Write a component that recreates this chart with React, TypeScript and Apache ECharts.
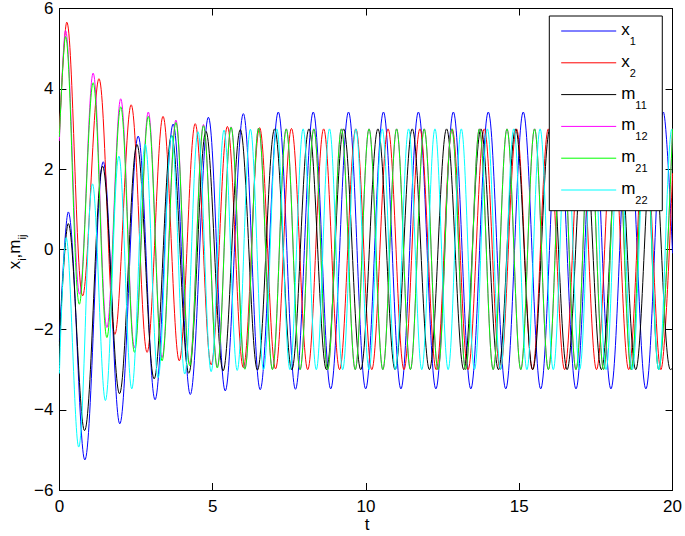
import React, { useEffect, useRef } from "react";
import * as echarts from "echarts";

const FONT = '"Liberation Sans", Arial, Helvetica, sans-serif';

const seriesNames = ["x1", "x2", "m11", "m12", "m21", "m22"];
const seriesColors = ["#0000ff", "#ff0000", "#000000", "#ff00ff", "#00ff00", "#00ffff"];
const xTicks = { min: 0, max: 20, interval: 5 };
const yTicks = { min: -6, max: 6, interval: 2 };

// x1 (blue): extrema [t, value]
const x1Data: number[][] = [
  [0, -2.3], [0.29, 0.93], [0.83, -5.25], [1.43, 2.18], [1.97, -4.35], [2.57, 2.82], [3.12, -3.75],
  [3.71, 3.12], [4.27, -3.62], [4.86, 3.29], [5.41, -3.53], [6.0, 3.38], [6.55, -3.5], [7.14, 3.42],
  [7.7, -3.49], [8.28, 3.42], [8.85, -3.48], [9.43, 3.42], [9.99, -3.48], [10.57, 3.42], [11.14, -3.48],
  [11.71, 3.42], [12.28, -3.48], [12.85, 3.42], [13.42, -3.48], [13.99, 3.42], [14.56, -3.48],
  [15.13, 3.42], [15.7, -3.48], [16.27, 3.42], [16.85, -3.48], [17.42, 3.42], [17.99, -3.48],
  [18.56, 3.42], [19.13, -3.48], [19.7, 3.42], [20, -0.1],
];

// x2 (red)
const x2Data: number[][] = [
  [0, 2.9], [0.24, 5.66], [0.76, -1.16], [1.29, 4.25], [1.81, -2.12], [2.34, 3.6], [2.86, -2.57],
  [3.38, 3.31], [3.91, -2.78], [4.43, 3.13], [4.95, -2.88], [5.48, 3.06], [6.0, -2.95], [6.53, 3.03],
  [7.05, -2.98], [7.57, 3.01], [8.1, -3.0], [8.62, 3.0], [9.14, -3.0], [9.67, 3.0], [10.19, -3.0],
  [10.72, 3.0], [11.24, -3.0], [11.76, 3.0], [12.29, -3.0], [12.81, 3.0], [13.33, -3.0], [13.86, 3.0],
  [14.38, -3.0], [14.91, 3.0], [15.43, -3.0], [15.95, 3.0], [16.48, -3.0], [17.0, 3.0], [17.52, -3.0],
  [18.05, 3.0], [18.57, -3.0], [19.1, 3.0], [19.62, -3.0], [20, 1.9],
];

// m11 (black)
const m11Data: number[][] = [
  [0, -2.4], [0.29, 0.64], [0.82, -4.52], [1.41, 2.07], [1.96, -3.6], [2.53, 2.61], [3.09, -3.23],
  [3.66, 2.84], [4.22, -3.09], [4.78, 2.94], [5.34, -3.03], [5.9, 2.98], [6.46, -3.01], [7.02, 3.0],
  [7.58, -3.0], [8.14, 3.0], [8.71, -3.0], [9.27, 3.0], [9.83, -3.0], [10.39, 3.0], [10.95, -3.0],
  [11.51, 3.0], [12.07, -3.0], [12.63, 3.0], [13.19, -3.0], [13.75, 3.0], [14.32, -3.0], [14.88, 3.0],
  [15.44, -3.0], [16.0, 3.0], [16.56, -3.0], [17.12, 3.0], [17.68, -3.0], [18.24, 3.0], [18.8, -3.0],
  [19.36, 3.0], [19.93, -3.0], [20, -2.97],
];

// m12 (magenta)
const m12Data: number[][] = [
  [0, 2.7], [0.2, 5.45], [0.66, -1.12], [1.1, 4.39], [1.55, -1.95], [2.0, 3.75], [2.45, -2.45],
  [2.9, 3.42], [3.35, -2.7], [3.8, 3.22], [4.25, -2.85], [4.7, 3.11], [5.15, -2.93], [5.6, 3.05],
  [6.05, -2.97], [6.5, 3.02], [6.95, -2.99], [7.4, 3.0], [7.85, -3.0], [8.3, 3.0], [8.75, -3.0],
  [9.2, 3.0], [9.65, -3.0], [10.1, 3.0], [10.55, -3.0], [11.0, 3.0], [11.45, -3.0], [11.9, 3.0],
  [12.35, -3.0], [12.8, 3.0], [13.25, -3.0], [13.7, 3.0], [14.15, -3.0], [14.6, 3.0], [15.05, -3.0],
  [15.5, 3.0], [15.95, -3.0], [16.4, 3.0], [16.85, -3.0], [17.3, 3.0], [17.75, -3.0], [18.2, 3.0],
  [18.65, -3.0], [19.1, 3.0], [19.55, -3.0], [20.0, 3.0],
];

// m21 (green)
const m21Data: number[][] = [
  [0, 2.8], [0.2, 5.3], [0.65, -1.37], [1.1, 4.15], [1.55, -2.2], [2.0, 3.55], [2.45, -2.57],
  [2.9, 3.31], [3.35, -2.78], [3.8, 3.16], [4.25, -2.9], [4.7, 3.08], [5.15, -2.96], [5.6, 3.04],
  [6.05, -2.99], [6.5, 3.02], [6.95, -3.0], [7.4, 3.0], [7.85, -3.0], [8.3, 3.0], [8.75, -3.0],
  [9.2, 3.0], [9.65, -3.0], [10.1, 3.0], [10.55, -3.0], [11.0, 3.0], [11.45, -3.0], [11.9, 3.0],
  [12.35, -3.0], [12.8, 3.0], [13.25, -3.0], [13.7, 3.0], [14.15, -3.0], [14.6, 3.0], [15.05, -3.0],
  [15.5, 3.0], [15.95, -3.0], [16.4, 3.0], [16.85, -3.0], [17.3, 3.0], [17.75, -3.0], [18.2, 3.0],
  [18.65, -3.0], [19.1, 3.0], [19.55, -3.0], [20.0, 3.0],
];

// m22 (cyan)
const m22Data: number[][] = [
  [0, -3.1], [0.22, 0.29], [0.63, -4.93], [1.08, 1.63], [1.5, -3.77], [1.94, 2.32], [2.36, -3.48],
  [2.8, 2.62], [3.22, -3.2], [3.66, 2.84], [4.09, -3.11], [4.52, 2.93], [4.95, -3.05], [5.37, 2.97],
  [5.8, -3.02], [6.23, 2.99], [6.66, -3.0], [7.09, 3.0], [7.52, -3.0], [7.95, 3.0], [8.38, -3.0],
  [8.81, 3.0], [9.24, -3.0], [9.67, 3.0], [10.1, -3.0], [10.53, 3.0], [10.96, -3.0], [11.39, 3.0],
  [11.82, -3.0], [12.25, 3.0], [12.68, -3.0], [13.11, 3.0], [13.54, -3.0], [13.96, 3.0], [14.39, -3.0],
  [14.82, 3.0], [15.25, -3.0], [15.68, 3.0], [16.11, -3.0], [16.54, 3.0], [16.97, -3.0], [17.4, 3.0],
  [17.83, -3.0], [18.26, 3.0], [18.69, -3.0], [19.12, 3.0], [19.55, -3.0], [19.98, 3.0], [20, 3.0],
];

const allData = [x1Data, x2Data, m11Data, m12Data, m21Data, m22Data];

const richLegend = {
  b: { fontSize: 17, fontFamily: FONT, color: "#000", lineHeight: 20, verticalAlign: "top" },
  s: { fontSize: 11, fontFamily: FONT, color: "#000", lineHeight: 12, padding: [14.6, 0, 0, 0], verticalAlign: "top" },
};
const richGraphic = {
  b: { fontSize: 17, fontFamily: FONT, fill: "#000", lineHeight: 12, verticalAlign: "top" },
  s: { fontSize: 11, fontFamily: FONT, fill: "#000", lineHeight: 12, padding: [10.6, 0, 0, 0], verticalAlign: "top" },
};

const minus = (v: number) => String(v).replace("-", "\u2212");

export default function App() {
  const ref = useRef<HTMLDivElement>(null);
  useEffect(() => {
    if (!ref.current) return;
    const chart = echarts.init(ref.current, null, { renderer: "svg", width: 685, height: 536 });
    const axisCommon = {
      type: "value",
      axisLine: { show: true, onZero: false, lineStyle: { color: "#000", width: 1 } },
      axisTick: { show: true, inside: true, length: 7, lineStyle: { color: "#000", width: 1 } },
      splitLine: { show: false },
    };
    chart.setOption({
      animation: false,
      backgroundColor: "#ffffff",
      grid: { left: 59.4, right: 11, top: 7.5, bottom: 46, containLabel: false },
      xAxis: [
        {
          ...axisCommon, position: "bottom", min: xTicks.min, max: xTicks.max, interval: xTicks.interval,
          axisLabel: { show: true, color: "#000", fontSize: 17, fontFamily: FONT, margin: 8, formatter: minus },
        },
        {
          ...axisCommon, position: "top", min: xTicks.min, max: xTicks.max, interval: xTicks.interval,
          axisLabel: { show: false },
        },
      ],
      yAxis: [
        {
          ...axisCommon, position: "left", min: yTicks.min, max: yTicks.max, interval: yTicks.interval,
          axisLabel: { show: true, color: "#000", fontSize: 17, fontFamily: FONT, margin: 6, formatter: minus },
        },
        {
          ...axisCommon, position: "right", min: yTicks.min, max: yTicks.max, interval: yTicks.interval,
          axisLabel: { show: false },
        },
      ],
      legend: {
        show: true,
        orient: "vertical",
        left: 549.3,
        top: 16,
        icon: "inherit",
        itemWidth: 55,
        itemHeight: 14,
        itemGap: 6.2,
        lineStyle: { width: 1 },
        itemStyle: { opacity: 0, borderWidth: 0 },
        padding: [5, 14.7, 5.1, 11.4],
        backgroundColor: "#ffffff",
        borderColor: "#000000",
        borderWidth: 1,
        borderRadius: 0,
        selectedMode: false,
        data: seriesNames,
        formatter: (name: string) => `{b|${name.slice(0, 1)}}{s|${name.slice(1)}}`,
        textStyle: { fontFamily: FONT, fontSize: 17, color: "#000", rich: richLegend },
      },
      graphic: [
        {
          type: "text",
          x: 11.5,
          y: 252,
          rotation: Math.PI / 2,
          style: {
            text: "{b|x}{s|i}{b|,m}{s|ij}",
            rich: richGraphic,
            fontFamily: FONT,
            fontSize: 17,
            fill: "#000",
            align: "center",
            verticalAlign: "middle",
          },
        },
        {
          type: "text",
          x: 367,
          y: 524,
          style: { text: "t", fontFamily: FONT, fontSize: 17, fill: "#000", align: "center", verticalAlign: "middle" },
        },
      ],
      series: seriesNames.map((name, i) => ({
        name,
        type: "line",
        data: allData[i],
        smooth: 0.36,
        showSymbol: false,
        symbol: "none",
        clip: true,
        color: seriesColors[i],
        itemStyle: { color: seriesColors[i] },
        lineStyle: { color: seriesColors[i], width: 1 },
        emphasis: { disabled: true },
      })),
    });
    return () => chart.dispose();
  }, []);
  return (
    <div
      ref={ref}
      style={{ position: "fixed", left: 0, top: 0, width: 685, height: 536, background: "#fff" }}
    />
  );
}
